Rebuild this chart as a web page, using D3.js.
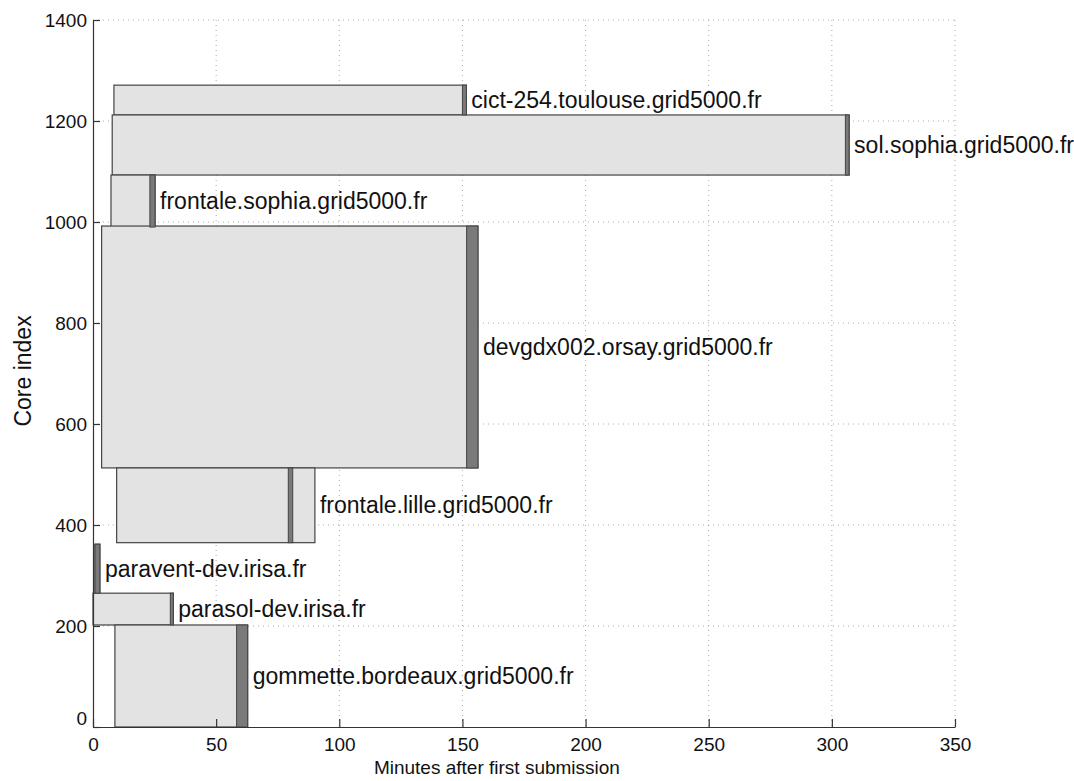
<!DOCTYPE html>
<html>
<head>
<meta charset="utf-8">
<script src="https://cdn.jsdelivr.net/npm/d3@7"></script>
<style>
  body { margin: 0; background: #fff; overflow: hidden; }
  text { font-family: "Liberation Sans", Arial, sans-serif; fill: #111; }
</style>
</head>
<body>
<svg id="chart" width="1074" height="781"></svg>
<script>
// hosts, core ranges and time ranges (minutes)
const hosts = [
  "cict-254.toulouse.grid5000.fr",
  "sol.sophia.grid5000.fr",
  "frontale.sophia.grid5000.fr",
  "devgdx002.orsay.grid5000.fr",
  "frontale.lille.grid5000.fr",
  "paravent-dev.irisa.fr",
  "parasol-dev.irisa.fr",
  "gommette.bordeaux.grid5000.fr"
];
const coreLow   = [1212, 1093, 990, 513, 365, 265, 202, 0];
const coreHigh  = [1271, 1212, 1093, 992, 513, 362, 265, 202];
const startMin  = [8.5, 7.8, 7.3, 3.5, 9.6, 0.8, 0, 8.9];
const endMin    = [151.6, 307, 25.2, 156.3, 90.1, 2.8, 32.6, 62.8];
const darkStart = [150, 305.5, 23.1, 151.7, 79.3, 0.8, 31.4, 58.3];
const darkEnd   = [151.6, 307, 25.2, 156.3, 81.1, 2.8, 32.6, 62.8];

const xTicks = [0, 50, 100, 150, 200, 250, 300, 350];
const yTicks = [0, 200, 400, 600, 800, 1000, 1200, 1400];

const svg = d3.select("#chart");
const margin = { left: 93, top: 20, right: 119, bottom: 54 };
const width = +svg.attr("width") - margin.left - margin.right;
const height = +svg.attr("height") - margin.top - margin.bottom;

const x = d3.scaleLinear().domain([0, 350]).range([0, width]);
const y = d3.scaleLinear().domain([0, 1400]).range([height, 0]);

const g = svg.append("g").attr("transform", `translate(${margin.left},${margin.top})`);

// dotted grid
g.append("g").selectAll("line").data(xTicks.slice(1)).join("line")
  .attr("x1", d => x(d)).attr("x2", d => x(d))
  .attr("y1", 0).attr("y2", height)
  .attr("stroke", "#aaa").attr("stroke-width", 1).attr("stroke-dasharray", "1,4");
g.append("g").selectAll("line").data(yTicks.slice(1)).join("line")
  .attr("y1", d => y(d)).attr("y2", d => y(d))
  .attr("x1", 0).attr("x2", width)
  .attr("stroke", "#aaa").attr("stroke-width", 1).attr("stroke-dasharray", "1,4");

const rows = hosts.map((h, i) => ({
  host: h, lo: coreLow[i], hi: coreHigh[i],
  s: startMin[i], e: endMin[i], ds: darkStart[i], de: darkEnd[i]
}));

// light rectangles
g.append("g").selectAll("rect").data(rows).join("rect")
  .attr("x", d => x(d.s)).attr("width", d => x(d.e) - x(d.s))
  .attr("y", d => y(d.hi)).attr("height", d => y(d.lo) - y(d.hi))
  .attr("fill", "#e3e3e3").attr("stroke", "#444").attr("stroke-width", 1.2);

// dark segments
g.append("g").selectAll("rect").data(rows).join("rect")
  .attr("x", d => x(d.ds)).attr("width", d => x(d.de) - x(d.ds))
  .attr("y", d => y(d.hi)).attr("height", d => y(d.lo) - y(d.hi))
  .attr("fill", "#7a7a7a").attr("stroke", "#444").attr("stroke-width", 1);

// host labels
g.append("g").selectAll("text").data(rows).join("text")
  .attr("x", d => x(d.e) + 5)
  .attr("y", d => (y(d.lo) + y(d.hi)) / 2)
  .attr("dy", "0.35em")
  .style("font-size", "23px")
  .text(d => d.host);

// axes
const xAxis = g.append("g").attr("transform", `translate(0,${height})`)
  .call(d3.axisBottom(x).tickValues(xTicks).tickSizeInner(-8).tickSizeOuter(0).tickPadding(11));
const yAxis = g.append("g")
  .call(d3.axisLeft(y).tickValues(yTicks).tickFormat(d3.format("d"))
    .tickSizeInner(-7).tickSizeOuter(0).tickPadding(6));
[xAxis, yAxis].forEach(a => {
  a.selectAll("path, line").attr("stroke", "#333").attr("stroke-width", 1.2);
  a.selectAll("text").style("font-size", "19px").attr("fill", "#111");
});
yAxis.select(".tick text").attr("dy", "-0.15em");

svg.append("text")
  .attr("x", margin.left + x(164)).attr("y", 774)
  .attr("text-anchor", "middle").style("font-size", "19px")
  .text("Minutes after first submission");
svg.append("text")
  .attr("transform", `translate(31,${margin.top + y(705)}) rotate(-90)`)
  .attr("text-anchor", "middle").style("font-size", "23px")
  .text("Core index");
</script>
</body>
</html>
